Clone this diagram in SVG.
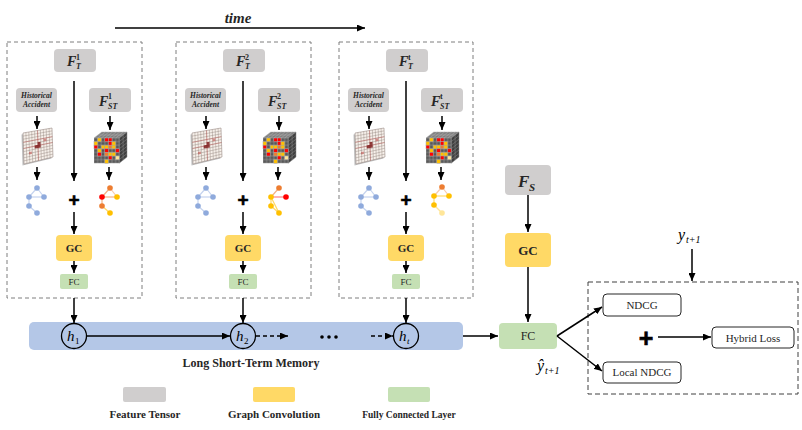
<svg xmlns="http://www.w3.org/2000/svg" xmlns:xlink="http://www.w3.org/1999/xlink" width="802" height="430" viewBox="0 0 802 430">
<style>
.frame{fill:none;stroke:#7f7f7f;stroke-width:1;stroke-dasharray:4 3}
.gray{fill:#d0cece}
.yel{fill:#ffd966}
.grn{fill:#c5e0b4}
.wbox{fill:#fff;stroke:#262626;stroke-width:1}
.fi{font-family:"Liberation Serif",serif;font-weight:bold;font-style:italic;fill:#262626}
.sb{font-family:"Liberation Serif",serif;font-weight:bold;fill:#262626}
.sr{font-family:"Liberation Serif",serif;fill:#262626}
.mi{font-family:"Liberation Serif",serif;font-style:italic;fill:#000}
.plus{font-family:"Liberation Sans",sans-serif;font-weight:bold;fill:#000;stroke:#000;stroke-width:0.6}
.arr{stroke:#000;stroke-width:1.5;fill:none;marker-end:url(#ah)}
.dash{stroke:#000;stroke-width:1.5;fill:none;stroke-dasharray:4 3;marker-end:url(#ah)}
.bn{fill:#8faadc}
.be{stroke:#c5d3ee;stroke-width:1.2}
</style>
<defs>
<marker id="ah" markerWidth="8" markerHeight="7" refX="8" refY="3.5" orient="auto" markerUnits="userSpaceOnUse">
<path d="M0,0 L8,3.5 L0,7 Z" fill="#000"/>
</marker>
<pattern id="cellp" width="3.6" height="3.6" patternUnits="userSpaceOnUse">
<rect x="0" y="0" width="3.6" height="3.6" fill="#595959" stroke="#a6a6a6" stroke-width="0.5"/>
</pattern>
<g id="sheet">
<polygon points="-1.5,6.5 27.5,1.5 28.5,30.5 -0.5,37.5" fill="#bfbfbf"/>
<polygon points="0,5 29,0 30,29 1,36" fill="#f6f0ea" stroke="#9a8c86" stroke-width="0.6"/>
<path d="M2.9,4.5 L3.9,35.3 M5.8,4 L6.8,34.6 M8.7,3.5 L9.7,33.9 M11.6,3 L12.6,33.2 M14.5,2.5 L15.5,32.5 M17.4,2 L18.4,31.8 M20.3,1.5 L21.3,31.1 M23.2,1 L24.2,30.4 M26.1,0.5 L27.1,29.7 M0.1,8.1 L29.1,2.9 M0.2,11.2 L29.2,5.8 M0.3,14.3 L29.3,8.7 M0.4,17.4 L29.4,11.6 M0.5,20.5 L29.5,14.5 M0.6,23.6 L29.6,17.4 M0.7,26.7 L29.7,20.3 M0.8,29.8 L29.8,23.2 M0.9,32.9 L29.9,26.1" stroke="#8c7b75" stroke-width="0.4" fill="none"/>
<path d="M0.5,20.5 L29.5,14.5 M14.5,2.5 L15.5,32.5 M0.3,14.3 L29.3,8.7" stroke="#c0504d" stroke-width="0.7" opacity="0.6" fill="none"/>
<path d="M11.6,17.4 L17.6,16.2 L17.8,19.4 L11.8,20.5 Z M14.6,14.3 L17.5,13.8 L17.6,16.2 L14.7,16.8 Z" fill="#7f1d1d" opacity="0.85"/>
<path d="M20.5,11 L23.3,10.5 L23.4,13 L20.6,13.5 Z M6,24 L8.8,23.5 L8.9,26 L6.1,26.5 Z" fill="#c0504d" opacity="0.6"/>
</g>
<g id="cube">
<polygon points="0,0 25.2,0 33,-6 7.8,-6" fill="#7f7f7f" stroke="#b0b0b0" stroke-width="0.5"/>
<path d="M3.6,0 L11.4,-6 M7.2,0 L15,-6 M10.8,0 L18.6,-6 M14.4,0 L22.2,-6 M18,0 L25.8,-6 M21.6,0 L29.4,-6 M3.9,-3 L29.1,-3" stroke="#b0b0b0" stroke-width="0.5"/>
<polygon points="25.2,0 33,-6 33,19 25.2,25.2" fill="#404040" stroke="#8a8a8a" stroke-width="0.5"/>
<path d="M25.2,3.6 L33,-2.4 M25.2,7.2 L33,1.2 M25.2,10.8 L33,4.8 M25.2,14.4 L33,8.4 M25.2,18 L33,12 M25.2,21.6 L33,15.6 M29.1,-3 L29.1,22.1" stroke="#8a8a8a" stroke-width="0.5"/>
<rect x="0" y="0" width="25.2" height="25.2" fill="url(#cellp)"/>
<g stroke="#a6a6a6" stroke-width="0.5">
<rect x="3.6" y="0" width="3.6" height="3.6" fill="#ffc000"/>
<rect x="10.8" y="0" width="3.6" height="3.6" fill="#ff0000"/>
<rect x="14.4" y="0" width="3.6" height="3.6" fill="#ff0000"/>
<rect x="0" y="3.6" width="3.6" height="3.6" fill="#ffc000"/>
<rect x="14.4" y="3.6" width="3.6" height="3.6" fill="#ff0000"/>
<rect x="18" y="3.6" width="3.6" height="3.6" fill="#ffc000"/>
<rect x="0" y="7.2" width="3.6" height="3.6" fill="#ff0000"/>
<rect x="7.2" y="7.2" width="3.6" height="3.6" fill="#ffc000"/>
<rect x="10.8" y="7.2" width="3.6" height="3.6" fill="#ffc000"/>
<rect x="14.4" y="7.2" width="3.6" height="3.6" fill="#ed7d31"/>
<rect x="18" y="7.2" width="3.6" height="3.6" fill="#ffc000"/>
<rect x="3.6" y="10.8" width="3.6" height="3.6" fill="#ffc000"/>
<rect x="10.8" y="10.8" width="3.6" height="3.6" fill="#ff0000"/>
<rect x="21.6" y="10.8" width="3.6" height="3.6" fill="#ff0000"/>
<rect x="3.6" y="14.4" width="3.6" height="3.6" fill="#ff0000"/>
<rect x="10.8" y="14.4" width="3.6" height="3.6" fill="#ed7d31"/>
<rect x="14.4" y="14.4" width="3.6" height="3.6" fill="#ffc000"/>
<rect x="18" y="14.4" width="3.6" height="3.6" fill="#ffc000"/>
<rect x="14.4" y="18" width="3.6" height="3.6" fill="#ff0000"/>
<rect x="21.6" y="18" width="3.6" height="3.6" fill="#ffe699"/>
<rect x="10.8" y="21.6" width="3.6" height="3.6" fill="#ffc000"/>
</g>
</g>
<g id="bgraph">
<line class="be" x1="0" y1="0" x2="-8" y2="9"/>
<line class="be" x1="0" y1="0" x2="7" y2="9"/>
<line class="be" x1="-8" y1="9" x2="7" y2="9"/>
<line class="be" x1="-8" y1="9" x2="-8" y2="18"/>
<line class="be" x1="-8" y1="18" x2="0" y2="25"/>
<circle class="bn" cx="0" cy="0" r="2.8"/>
<circle class="bn" cx="-8" cy="9" r="2.8"/>
<circle class="bn" cx="7" cy="9" r="2.8"/>
<circle class="bn" cx="-8" cy="18" r="2.8"/>
<circle class="bn" cx="0" cy="25" r="2.8"/>
</g>
</defs>

<rect width="802" height="430" fill="#fff"/>

<g id="time">
<text class="fi" x="238" y="23" font-size="15" text-anchor="middle">time</text>
</g>

<g id="step-1">
<rect class="frame" x="7" y="42" width="135" height="256"/>
<g id="ft-1"><rect class="gray" x="54" y="49" width="42" height="23" rx="4"/>
<text class="fi" font-size="14"><tspan x="67" y="66">F</tspan><tspan x="76" y="60" font-size="8" font-style="normal">1</tspan><tspan x="76" y="69" font-size="8">T</tspan></text></g>
<g id="ha-1"><rect class="gray" x="16" y="88" width="41" height="24" rx="4"/>
<text class="fi" font-size="7.5" text-anchor="middle"><tspan x="36.5" y="98">Historical</tspan><tspan x="36.5" y="107">Accident</tspan></text></g>
<g id="fst-1"><rect class="gray" x="89" y="88" width="42" height="24" rx="4"/>
<text class="fi" font-size="14"><tspan x="99" y="106">F</tspan><tspan x="108" y="99" font-size="8" font-style="normal">1</tspan><tspan x="108" y="109" font-size="8">ST</tspan></text></g>
<g id="grid-1"><use xlink:href="#sheet" href="#sheet" transform="translate(23,128)"/></g>
<g id="cube-1"><use xlink:href="#cube" href="#cube" transform="translate(94,138)"/></g>
<g id="bg-1"><use xlink:href="#bgraph" href="#bgraph" transform="translate(37,188)"/></g>
<g id="og-1">
<line x1="110" y1="188" x2="102" y2="197" stroke="#f4b183" stroke-width="1.2"/>
<line x1="110" y1="188" x2="117" y2="197" stroke="#f8cbad" stroke-width="1.2"/>
<line x1="102" y1="197" x2="117" y2="197" stroke="#f4b183" stroke-width="1.2"/>
<line x1="102" y1="197" x2="102" y2="206" stroke="#f4b183" stroke-width="1.2"/>
<line x1="102" y1="206" x2="110" y2="213" stroke="#ffd966" stroke-width="1.2"/>
<circle cx="110" cy="188" r="2.8" fill="#ed7d31"/>
<circle cx="102" cy="197" r="2.8" fill="#ff0000"/>
<circle cx="117" cy="197" r="2.8" fill="#ffc000"/>
<circle cx="102" cy="206" r="2.8" fill="#ed7d31"/>
<circle cx="110" cy="213" r="2.8" fill="#ffc000"/>
</g>
<g id="plus-1"><text class="plus" x="74" y="206" font-size="19" text-anchor="middle">+</text></g>
<g id="gc-1"><rect class="yel" x="56" y="235" width="36" height="26" rx="4"/>
<text class="sb" x="74" y="252" font-size="11" text-anchor="middle">GC</text></g>
<g id="fc-1"><rect class="grn" x="60" y="274" width="28" height="15" rx="2"/>
<text class="sr" x="74" y="285" font-size="9" text-anchor="middle">FC</text></g>
</g>

<g id="step-2">
<rect class="frame" x="176" y="42" width="135" height="256"/>
<g id="ft-2"><rect class="gray" x="223" y="49" width="42" height="23" rx="4"/>
<text class="fi" font-size="14"><tspan x="236" y="66">F</tspan><tspan x="245" y="60" font-size="8" font-style="normal">2</tspan><tspan x="245" y="69" font-size="8">T</tspan></text></g>
<g id="ha-2"><rect class="gray" x="185" y="88" width="41" height="24" rx="4"/>
<text class="fi" font-size="7.5" text-anchor="middle"><tspan x="205.5" y="98">Historical</tspan><tspan x="205.5" y="107">Accident</tspan></text></g>
<g id="fst-2"><rect class="gray" x="258" y="88" width="42" height="24" rx="4"/>
<text class="fi" font-size="14"><tspan x="268" y="106">F</tspan><tspan x="277" y="99" font-size="8" font-style="normal">2</tspan><tspan x="277" y="109" font-size="8">ST</tspan></text></g>
<g id="grid-2"><use xlink:href="#sheet" href="#sheet" transform="translate(192,128)"/></g>
<g id="cube-2"><use xlink:href="#cube" href="#cube" transform="translate(263,138)"/></g>
<g id="bg-2"><use xlink:href="#bgraph" href="#bgraph" transform="translate(206,188)"/></g>
<g id="og-2">
<line x1="279" y1="188" x2="271" y2="197" stroke="#f4b183" stroke-width="1.2"/>
<line x1="271" y1="197" x2="286" y2="197" stroke="#ff8080" stroke-width="1.2"/>
<line x1="271" y1="197" x2="271" y2="206" stroke="#ffd966" stroke-width="1.2"/>
<line x1="271" y1="206" x2="279" y2="213" stroke="#ffd966" stroke-width="1.2"/>
<line x1="271" y1="197" x2="279" y2="213" stroke="#ffd966" stroke-width="1.2"/>
<circle cx="279" cy="188" r="2.8" fill="#ed7d31"/>
<circle cx="271" cy="197" r="2.8" fill="#ffc000"/>
<circle cx="286" cy="197" r="2.8" fill="#ff0000"/>
<circle cx="271" cy="206" r="2.8" fill="#ffc000"/>
<circle cx="279" cy="213" r="2.8" fill="#ffc000"/>
</g>
<g id="plus-2"><text class="plus" x="243" y="206" font-size="19" text-anchor="middle">+</text></g>
<g id="gc-2"><rect class="yel" x="225" y="235" width="36" height="26" rx="4"/>
<text class="sb" x="243" y="252" font-size="11" text-anchor="middle">GC</text></g>
<g id="fc-2"><rect class="grn" x="229" y="274" width="28" height="15" rx="2"/>
<text class="sr" x="243" y="285" font-size="9" text-anchor="middle">FC</text></g>
</g>

<g id="step-t">
<rect class="frame" x="339" y="42" width="134" height="256"/>
<g id="ft-t"><rect class="gray" x="386" y="49" width="42" height="23" rx="4"/>
<text class="fi" font-size="14"><tspan x="399" y="66">F</tspan><tspan x="408" y="60" font-size="8" font-style="normal">t</tspan><tspan x="408" y="69" font-size="8">T</tspan></text></g>
<g id="ha-t"><rect class="gray" x="348" y="88" width="41" height="24" rx="4"/>
<text class="fi" font-size="7.5" text-anchor="middle"><tspan x="368.5" y="98">Historical</tspan><tspan x="368.5" y="107">Accident</tspan></text></g>
<g id="fst-t"><rect class="gray" x="421" y="88" width="42" height="24" rx="4"/>
<text class="fi" font-size="14"><tspan x="431" y="106">F</tspan><tspan x="440" y="99" font-size="8" font-style="normal">t</tspan><tspan x="440" y="109" font-size="8">ST</tspan></text></g>
<g id="grid-t"><use xlink:href="#sheet" href="#sheet" transform="translate(355,128)"/></g>
<g id="cube-t"><use xlink:href="#cube" href="#cube" transform="translate(426,138)"/></g>
<g id="bg-t"><use xlink:href="#bgraph" href="#bgraph" transform="translate(369,188)"/></g>
<g id="og-t">
<line x1="442" y1="187" x2="434" y2="196" stroke="#f8cbad" stroke-width="1.2"/>
<line x1="442" y1="187" x2="449" y2="196" stroke="#f8cbad" stroke-width="1.2"/>
<line x1="434" y1="196" x2="449" y2="196" stroke="#ffd966" stroke-width="1.2"/>
<line x1="434" y1="196" x2="434" y2="205" stroke="#ffd966" stroke-width="1.2"/>
<line x1="434" y1="205" x2="442" y2="213" stroke="#ffe699" stroke-width="1.2"/>
<circle cx="442" cy="187" r="2.8" fill="#ed7d31"/>
<circle cx="434" cy="196" r="2.8" fill="#ffc000"/>
<circle cx="449" cy="196" r="2.8" fill="#ffc000"/>
<circle cx="434" cy="205" r="2.8" fill="#ffc000"/>
<circle cx="442" cy="213" r="2.8" fill="#ffe699"/>
</g>
<g id="plus-t"><text class="plus" x="406" y="206" font-size="19" text-anchor="middle">+</text></g>
<g id="gc-t"><rect class="yel" x="388" y="235" width="36" height="26" rx="4"/>
<text class="sb" x="406" y="252" font-size="11" text-anchor="middle">GC</text></g>
<g id="fc-t"><rect class="grn" x="392" y="274" width="28" height="15" rx="2"/>
<text class="sr" x="406" y="285" font-size="9" text-anchor="middle">FC</text></g>
</g>

<g id="lstm">
<rect x="29" y="322" width="434" height="28" rx="5" fill="#b4c7e7"/>
<text class="sb" x="251" y="367" font-size="12" text-anchor="middle">Long Short-Term Memory</text>
</g>
<g id="h1"><circle cx="74" cy="336" r="12.5" fill="none" stroke="#000" stroke-width="1.3"/>
<text class="mi" font-size="15"><tspan x="67" y="341">h</tspan><tspan x="75" y="344" font-size="9" font-style="normal">1</tspan></text></g>
<g id="h2"><circle cx="243" cy="336" r="12.5" fill="none" stroke="#000" stroke-width="1.3"/>
<text class="mi" font-size="15"><tspan x="236" y="341">h</tspan><tspan x="244" y="344" font-size="9" font-style="normal">2</tspan></text></g>
<g id="ht"><circle cx="406" cy="336" r="12.5" fill="none" stroke="#000" stroke-width="1.3"/>
<text class="mi" font-size="15"><tspan x="399" y="341">h</tspan><tspan x="407" y="344" font-size="9">t</tspan></text></g>
<g id="dots">
<circle cx="322" cy="337" r="1.8" fill="#000"/>
<circle cx="329" cy="337" r="1.8" fill="#000"/>
<circle cx="336" cy="337" r="1.8" fill="#000"/>
</g>

<g id="fs"><rect class="gray" x="505" y="165" width="46" height="30" rx="4"/>
<text class="fi" font-size="17"><tspan x="518" y="187">F</tspan><tspan x="529" y="191" font-size="11">S</tspan></text></g>
<g id="gc-s"><rect class="yel" x="505" y="233" width="46" height="34" rx="4"/>
<text class="sb" x="528" y="255" font-size="13" text-anchor="middle">GC</text></g>
<g id="fc-out"><rect class="grn" x="499" y="323" width="58" height="26" rx="4"/>
<text class="sr" x="528" y="340" font-size="12" text-anchor="middle">FC</text></g>
<g id="yhat"><text class="mi" font-size="16"><tspan x="537" y="371">ŷ</tspan><tspan x="545" y="374" font-size="10">t+1</tspan></text></g>
<g id="ytrue"><text class="mi" font-size="16"><tspan x="678" y="240">y</tspan><tspan x="686" y="243" font-size="10">t+1</tspan></text></g>
<g id="loss-box"><rect x="588" y="282" width="210" height="112" fill="none" stroke="#404040" stroke-width="1" stroke-dasharray="5 3"/></g>
<g id="ndcg"><rect class="wbox" x="603" y="294" width="78" height="22" rx="4"/>
<text class="sr" x="642" y="309" font-size="11" text-anchor="middle">NDCG</text></g>
<g id="lndcg"><rect class="wbox" x="603" y="362" width="78" height="21" rx="4"/>
<text class="sr" x="642" y="376" font-size="11" text-anchor="middle">Local NDCG</text></g>
<g id="hybrid"><rect class="wbox" x="712" y="327" width="82" height="21" rx="4"/>
<text class="sr" x="753" y="342" font-size="11" text-anchor="middle">Hybrid Loss</text></g>
<g id="plus-loss"><text class="plus" x="646" y="347" font-size="25" text-anchor="middle">+</text></g>

<g id="legend-ft"><rect class="gray" x="123" y="387" width="43" height="15" rx="2"/>
<text class="sb" x="145" y="418" font-size="11" text-anchor="middle">Feature Tensor</text></g>
<g id="legend-gc"><rect class="yel" x="253" y="387" width="42" height="15" rx="2"/>
<text class="sb" x="274" y="418" font-size="11" text-anchor="middle">Graph Convolution</text></g>
<g id="legend-fc"><rect class="grn" x="388" y="387" width="42" height="15" rx="2"/>
<text class="sb" x="409" y="418" font-size="9.5" text-anchor="middle">Fully Connected Layer</text></g>

<g id="connectors">
<line class="arr" x1="115" y1="28" x2="365" y2="28"/>
<line class="arr" x1="74" y1="81" x2="74" y2="181"/>
<line class="arr" x1="37" y1="116" x2="37" y2="129"/>
<line class="arr" x1="110" y1="116" x2="110" y2="130"/>
<line class="arr" x1="37" y1="167" x2="37" y2="180"/>
<line class="arr" x1="109" y1="167" x2="109" y2="180"/>
<line class="arr" x1="74" y1="212" x2="74" y2="234"/>
<line class="arr" x1="74" y1="261" x2="74" y2="273"/>
<line class="arr" x1="74" y1="298" x2="74" y2="323"/>
<line class="arr" x1="243" y1="81" x2="243" y2="181"/>
<line class="arr" x1="206" y1="116" x2="206" y2="129"/>
<line class="arr" x1="279" y1="116" x2="279" y2="130"/>
<line class="arr" x1="206" y1="167" x2="206" y2="180"/>
<line class="arr" x1="278" y1="167" x2="278" y2="180"/>
<line class="arr" x1="243" y1="212" x2="243" y2="234"/>
<line class="arr" x1="243" y1="261" x2="243" y2="273"/>
<line class="arr" x1="243" y1="298" x2="243" y2="323"/>
<line class="arr" x1="406" y1="81" x2="406" y2="181"/>
<line class="arr" x1="369" y1="116" x2="369" y2="129"/>
<line class="arr" x1="442" y1="116" x2="442" y2="130"/>
<line class="arr" x1="369" y1="167" x2="369" y2="180"/>
<line class="arr" x1="441" y1="167" x2="441" y2="180"/>
<line class="arr" x1="406" y1="212" x2="406" y2="234"/>
<line class="arr" x1="406" y1="261" x2="406" y2="273"/>
<line class="arr" x1="406" y1="298" x2="406" y2="323"/>
<line class="arr" x1="86.5" y1="336" x2="230" y2="336"/>
<line class="dash" x1="256" y1="336" x2="288" y2="336"/>
<line class="dash" x1="371" y1="336" x2="393" y2="336"/>
<line class="arr" x1="463" y1="336" x2="498" y2="336"/>
<line class="arr" x1="528" y1="195" x2="528" y2="232"/>
<line class="arr" x1="528" y1="267" x2="528" y2="322"/>
<line class="arr" x1="557" y1="336" x2="602" y2="307"/>
<line class="arr" x1="557" y1="336" x2="602" y2="371"/>
<line class="arr" x1="692" y1="249" x2="692" y2="281"/>
<line class="arr" x1="658" y1="337" x2="711" y2="337"/>
</g>
</svg>
